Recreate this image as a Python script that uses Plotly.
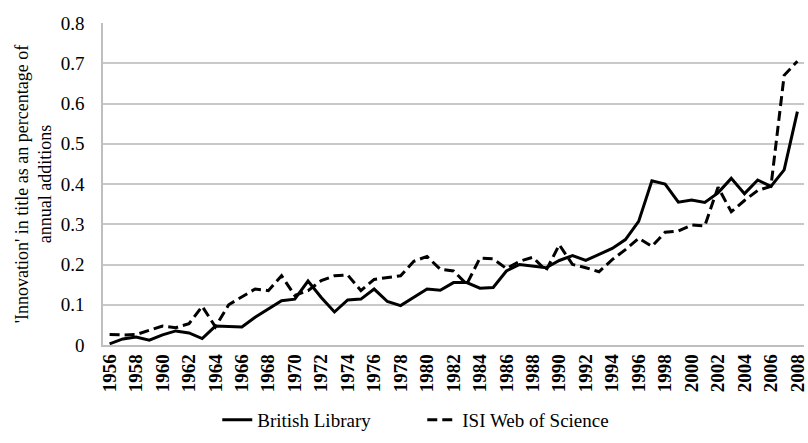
import plotly.graph_objects as go

years = list(range(1956, 2009))

british_library = [
    0.003, 0.015, 0.020, 0.012, 0.025, 0.035, 0.030, 0.016, 0.047, 0.046,
    0.045, 0.069, 0.090, 0.110, 0.114, 0.159, 0.118, 0.082, 0.112, 0.114,
    0.139, 0.108, 0.098, 0.118, 0.139, 0.136, 0.155, 0.155, 0.141, 0.143,
    0.184, 0.200, 0.196, 0.192, 0.210, 0.222, 0.210, 0.225, 0.240, 0.262,
    0.307, 0.408, 0.400, 0.355, 0.360, 0.354, 0.378, 0.414, 0.376, 0.410,
    0.394, 0.435, 0.580,
]

isi_web_of_science = [
    0.026, 0.025, 0.026, 0.037, 0.047, 0.043, 0.053, 0.096, 0.045, 0.100,
    0.120, 0.139, 0.135, 0.172, 0.123, 0.135, 0.160, 0.172, 0.174, 0.135,
    0.163, 0.167, 0.172, 0.208, 0.220, 0.188, 0.184, 0.151, 0.216, 0.214,
    0.190, 0.208, 0.218, 0.185, 0.249, 0.200, 0.192, 0.182, 0.212, 0.237,
    0.265, 0.245, 0.280, 0.283, 0.298, 0.296, 0.392, 0.331, 0.359, 0.384,
    0.394, 0.670, 0.705,
]

x_tick_years = list(range(1956, 2009, 2))
y_ticks = [0, 0.1, 0.2, 0.3, 0.4, 0.5, 0.6, 0.7, 0.8]
y_tick_labels = ["0", "0.1", "0.2", "0.3", "0.4", "0.5", "0.6", "0.7", "0.8"]

serif = "Liberation Serif"

fig = go.Figure()
fig.add_trace(go.Scatter(
    x=years, y=british_library, mode="lines", name="British Library",
    line=dict(color="black", width=3),
))
fig.add_trace(go.Scatter(
    x=years, y=isi_web_of_science, mode="lines", name="ISI Web of Science",
    line=dict(color="black", width=3, dash="10px,5px"),
))

fig.update_layout(
    width=808, height=443,
    margin=dict(l=103, r=4, t=23, b=95),
    paper_bgcolor="white", plot_bgcolor="white",
    font=dict(family=serif, color="black", size=16),
    showlegend=True,
    legend=dict(
        orientation="h", x=0.163, xanchor="left", y=-0.292, yanchor="bottom",
        font=dict(family=serif, size=19, color="black"),
        entrywidth=160, entrywidthmode="pixels",
        borderwidth=0, tracegroupgap=0,
    ),
)

fig.update_xaxes(
    range=[1955.5, 2008.5],
    tickmode="array", tickvals=x_tick_years,
    ticktext=[str(y) for y in x_tick_years],
    tickangle=-90,
    tickfont=dict(family=serif, size=19, color="black", weight="bold"),
    showgrid=False, zeroline=False,
    showline=True, linecolor="#bfbfbf", linewidth=1.5,
    ticks="", automargin=False, ticklabeloverflow="allow",
)
fig.update_yaxes(
    range=[0, 0.8],
    tickmode="array", tickvals=y_ticks, ticktext=y_tick_labels,
    tickfont=dict(family=serif, size=19, color="black"),
    showgrid=True, gridcolor="#c8c8c8", gridwidth=1.5,
    zeroline=False,
    showline=True, linecolor="#bfbfbf", linewidth=1.5,
    ticks="outside", ticklen=13, tickcolor="white",
    automargin=False,
    title=dict(
        text="'Innovation' in title as an percentage of<br>annual additions",
        font=dict(family=serif, size=18, color="black"),
        standoff=4,
    ),
)

fig.write_html(
    "out.html",
    config={"displayModeBar": False},
    post_script="document.body.style.margin='0';document.body.style.overflow='hidden';",
)
